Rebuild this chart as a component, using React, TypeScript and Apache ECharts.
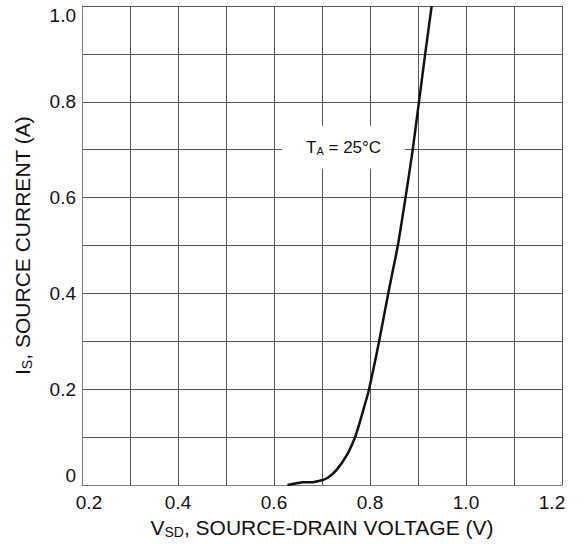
import React, { useEffect, useRef } from "react";
import * as echarts from "echarts";

const voltage = [0.628, 0.645, 0.66, 0.68, 0.70, 0.712, 0.73, 0.752, 0.767, 0.777, 0.787, 0.798, 0.819, 0.838, 0.848, 0.858, 0.874, 0.889, 0.902, 0.915, 0.9285];
const current = [0, 0.003, 0.006, 0.006, 0.01, 0.015, 0.031, 0.063, 0.095, 0.125, 0.16, 0.2, 0.3, 0.4, 0.45, 0.5, 0.6, 0.7, 0.8, 0.9, 1.0];
const annotationPos = [0.745, 0.705];
const annotationText = "T{s|A} = 25°C";

const FONT = "'Liberation Sans', Arial, Helvetica, sans-serif";

export default function App() {
  const ref = useRef<HTMLDivElement>(null);
  useEffect(() => {
    if (!ref.current) return;
    const chart = echarts.init(ref.current, undefined, { renderer: "svg" });
    const data = voltage.map((v, i) => [v, current[i]]);
    chart.setOption({
      animation: false,
      backgroundColor: "#fff",
      textStyle: { fontFamily: FONT },
      grid: { left: 82, right: 23, top: 6, bottom: 59, containLabel: false },
      xAxis: {
        type: "value",
        min: 0.2,
        max: 1.2,
        interval: 0.1,
        axisLine: { show: true, lineStyle: { color: "#777", width: 1 } },
        axisTick: { show: false },
        splitLine: { show: true, lineStyle: { color: "#555", width: 1 } },
        axisLabel: {
          color: "#111",
          fontSize: 19,
          fontFamily: FONT,
          margin: 8,
          formatter: (v: number) => {
            const k = Math.round(v * 10);
            if (k % 2 !== 0) return "";
            if (k === 2) return "{l|" + v.toFixed(1) + "}";
            if (k === 12) return "{r|" + v.toFixed(1) + "}";
            return v.toFixed(1);
          },
          rich: {
            l: { fontSize: 19, color: "#111", fontFamily: FONT, padding: [0, 0, 0, 14] },
            r: { fontSize: 19, color: "#111", fontFamily: FONT, padding: [0, 20, 0, 0] },
          },
        },
        name: "{a|V}{s|SD}{a|, SOURCE-DRAIN VOLTAGE (V)}",
        nameLocation: "middle",
        nameGap: 30,
        nameTextStyle: {
          rich: {
            a: { fontSize: 21, color: "#111", fontFamily: FONT },
            s: { fontSize: 14, color: "#111", fontFamily: FONT, padding: [9, 0, 0, 0] },
          },
        },
      },
      yAxis: {
        type: "value",
        min: 0,
        max: 1.0,
        interval: 0.1,
        axisLine: { show: true, lineStyle: { color: "#777", width: 1 } },
        axisTick: { show: false },
        splitLine: { show: true, lineStyle: { color: "#555", width: 1 } },
        axisLabel: {
          color: "#111",
          fontSize: 19,
          fontFamily: FONT,
          margin: 6,
          verticalAlignMaxLabel: "top",
          verticalAlignMinLabel: "bottom",
          formatter: (v: number) => {
            const k = Math.round(v * 10);
            if (k % 2 !== 0) return "";
            return k === 0 ? "0" : v.toFixed(1);
          },
        },
        name: "{a|I}{s|S}{a|, SOURCE CURRENT (A)}",
        nameLocation: "middle",
        nameRotate: 90,
        nameGap: 48,
        nameTextStyle: {
          rich: {
            a: { fontSize: 21, color: "#111", fontFamily: FONT },
            s: { fontSize: 14, color: "#111", fontFamily: FONT, padding: [9, 0, 0, 0] },
          },
        },
      },
      series: [
        {
          type: "line",
          data,
          showSymbol: false,
          smooth: 0.3,
          lineStyle: { color: "#111", width: 2.5 },
          z: 3,
          markPoint: {
            silent: true,
            symbol: "rect",
            symbolSize: [123, 43],
            itemStyle: { color: "#fff" },
            data: [{ coord: annotationPos }],
            label: {
              show: true,
              position: "inside",
              formatter: annotationText,
              color: "#111",
              fontSize: 17,
              fontFamily: FONT,
              rich: {
                s: { fontSize: 11, color: "#111", fontFamily: FONT, padding: [8, 0, 0, 0] },
              },
            },
          },
        },
      ],
    });
    return () => chart.dispose();
  }, []);
  return <div ref={ref} style={{ width: 585, height: 544, position: "absolute", left: 0, top: 0 }} />;
}
